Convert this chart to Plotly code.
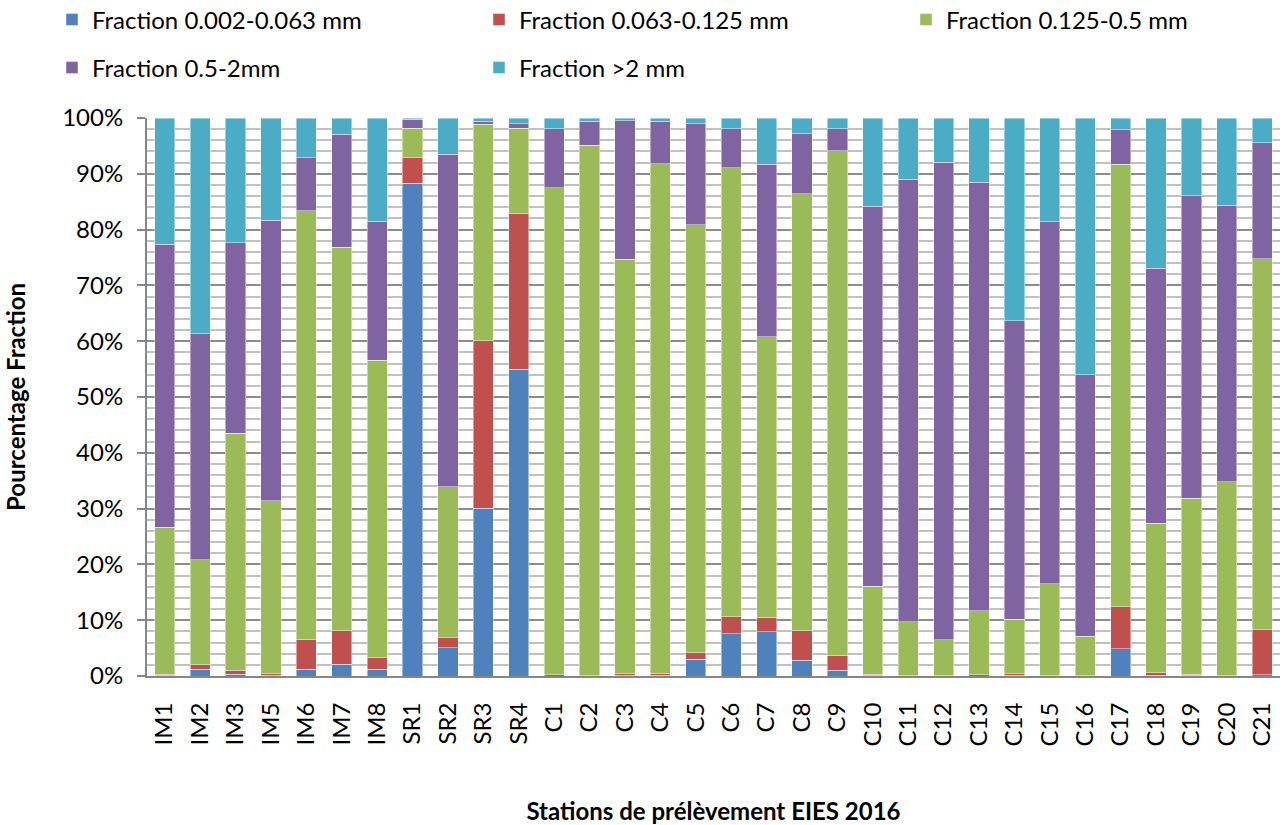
import plotly.graph_objects as go

# Sampling stations
stations = ["IM1", "IM2", "IM3", "IM5", "IM6", "IM7", "IM8", "SR1", "SR2", "SR3", "SR4",
            "C1", "C2", "C3", "C4", "C5", "C6", "C7", "C8", "C9", "C10", "C11", "C12",
            "C13", "C14", "C15", "C16", "C17", "C18", "C19", "C20", "C21"]

# Grain-size fractions (% of sample) per station
frac_0002_0063 = [0.1, 1.2, 0.3, 0.1, 1.2, 2.1, 1.2, 88.3, 5.1, 30.1, 55.0,
                  0.0, 0.0, 0.1, 0.1, 3.0, 7.6, 7.9, 2.8, 1.0, 0.1, 0.0, 0.0,
                  0.0, 0.1, 0.0, 0.0, 4.9, 0.1, 0.1, 0.0, 0.2]
frac_0063_0125 = [0.2, 0.8, 0.7, 0.3, 5.4, 6.0, 2.1, 4.6, 1.8, 30.0, 27.9,
                  0.2, 0.1, 0.3, 0.4, 1.2, 3.0, 2.6, 5.3, 2.7, 0.2, 0.1, 0.1,
                  0.2, 0.3, 0.1, 0.1, 7.5, 0.5, 0.2, 0.1, 8.1]
frac_0125_05 = [26.4, 18.8, 42.5, 31.0, 76.8, 68.7, 53.3, 5.3, 27.0, 38.8, 15.3,
                87.3, 95.0, 74.3, 91.3, 76.7, 80.5, 50.3, 78.3, 90.4, 15.8, 9.6, 6.4,
                11.5, 9.8, 16.4, 7.0, 79.3, 26.8, 31.6, 34.7, 66.5]
frac_05_2 = [50.7, 40.5, 34.1, 50.3, 9.5, 20.3, 24.9, 1.6, 59.6, 0.5, 0.8,
             10.6, 4.3, 24.8, 7.6, 18.1, 7.0, 30.9, 10.8, 4.0, 68.1, 79.3, 85.6,
             76.8, 53.5, 64.9, 46.9, 6.2, 45.7, 54.2, 49.6, 20.8]
frac_gt2 = [22.6, 38.7, 22.4, 18.3, 7.1, 2.9, 18.5, 0.2, 6.5, 0.6, 1.0,
            1.9, 0.6, 0.5, 0.6, 1.0, 1.9, 8.3, 2.8, 1.9, 15.8, 11.0, 7.9,
            11.5, 36.3, 18.6, 46.0, 2.1, 26.9, 13.9, 15.6, 4.4]

names = ["Fraction 0.002-0.063 mm", "Fraction 0.063-0.125 mm", "Fraction 0.125-0.5 mm",
         "Fraction 0.5-2mm", "Fraction >2 mm"]
values = [frac_0002_0063, frac_0063_0125, frac_0125_05, frac_05_2, frac_gt2]
colors = ["#4F81BD", "#C0504D", "#9BBB59", "#8064A2", "#4BACC6"]

FONT = "Lato, 'Open Sans', sans-serif"

W, H = 1286, 825
ml, mr, mt, mb = 147, 6, 118, 149
pw, ph = W - ml - mr, H - mt - mb


def px_x(px):
    return (px - ml) / pw


def px_y(py):
    return (H - mb - py) / ph


# one legend box per entry, laid out on a 3-column grid over two rows
legend_slots = [(52, 20), (479, 20), (906, 20), (52, 68), (479, 68)]
legend_ids = ["legend", "legend2", "legend3", "legend4", "legend5"]

fig = go.Figure()
for name, vals, color, lid in zip(names, values, colors, legend_ids):
    fig.add_trace(go.Bar(
        x=stations, y=vals, name=name, legend=lid, showlegend=True,
        marker=dict(color=color, line=dict(color="rgba(255,255,255,0.55)", width=0.8)),
    ))

legend_layout = {}
for lid, (lx, ly) in zip(legend_ids, legend_slots):
    legend_layout[lid] = dict(
        x=px_x(lx), y=px_y(ly), xanchor="left", yanchor="middle",
        orientation="h", font=dict(family=FONT, size=24, color="#000000"),
        bgcolor="rgba(0,0,0,0)", itemclick=False, itemdoubleclick=False,
    )

fig.update_layout(
    width=W, height=H, showlegend=True,
    margin=dict(l=ml, r=mr, t=mt, b=mb, autoexpand=False),
    paper_bgcolor="white", plot_bgcolor="white",
    barmode="stack", bargap=0.43,
    font=dict(family=FONT, size=24, color="#000000"),
    xaxis=dict(
        showline=True, linecolor="#868686", linewidth=2,
        tickangle=-90, ticks="", ticklabelstandoff=15,
        tickfont=dict(family=FONT, size=24, color="#000000"),
        title=dict(text="<b>Stations de prélèvement EIES 2016</b>",
                   font=dict(family=FONT, size=24, color="#000000"), standoff=85),
        automargin=False,
    ),
    yaxis=dict(
        range=[0, 100], dtick=10, ticksuffix="%",
        showline=True, linecolor="#868686", linewidth=2,
        ticks="outside", ticklen=8, tickwidth=2, tickcolor="#868686",
        showgrid=True, gridcolor="#8c8c8c", gridwidth=2,
        minor=dict(dtick=2, showgrid=True, gridcolor="#c0c0c0", gridwidth=2, ticks=""),
        tickfont=dict(family=FONT, size=24, color="#000000"),
        ticklabelstandoff=9,
        title=dict(text="<b>Pourcentage Fraction</b>",
                   font=dict(family=FONT, size=24, color="#000000"), standoff=30),
        automargin=False, zeroline=False,
    ),
    **legend_layout,
)

fig.write_html("out.html")
